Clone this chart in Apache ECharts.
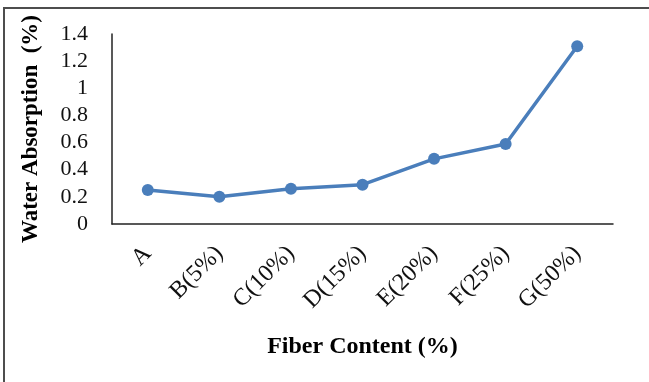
<!DOCTYPE html>
<html>
<head>
<meta charset="utf-8">
<script src="https://cdn.jsdelivr.net/npm/echarts@6/dist/echarts.min.js"></script>
<style>
  html, body { margin: 0; padding: 0; background: #fff; }
  #chart { width: 649px; height: 382px; }
</style>
</head>
<body>
<div id="chart"></div>
<script>
// Fiber content samples and measured water absorption
const categories = ['A', 'B(5%)', 'C(10%)', 'D(15%)', 'E(20%)', 'F(25%)', 'G(50%)'];
const absorption = [0.25, 0.20, 0.26, 0.29, 0.48, 0.59, 1.31];
const yTicks = ['0', '0.2', '0.4', '0.6', '0.8', '1', '1.2', '1.4'];

const serif = '"Liberation Serif", "Times New Roman", serif';
const chart = echarts.init(document.getElementById('chart'));

chart.setOption({
  animation: false,
  backgroundColor: '#fff',
  graphic: [{
    type: 'rect',
    shape: { x: 4, y: 8, width: 700, height: 420 },
    style: { fill: 'none', stroke: '#4d4d4d', lineWidth: 2 },
    silent: true
  }],
  grid: { left: 112, right: 36, top: 34, bottom: 158 },
  xAxis: {
    type: 'category',
    data: categories,
    boundaryGap: true,
    axisLine: { lineStyle: { color: '#222', width: 1.5 } },
    axisTick: { show: false },
    axisLabel: {
      rotate: 45,
      margin: 26,
      fontFamily: serif,
      fontSize: 24,
      color: '#111'
    },
    name: 'Fiber Content (%)',
    nameLocation: 'middle',
    nameGap: 111,
    nameTextStyle: { fontFamily: serif, fontSize: 24, fontWeight: 'bold', color: '#000' }
  },
  yAxis: {
    type: 'value',
    min: 0,
    max: 1.4,
    interval: 0.2,
    splitLine: { show: false },
    axisLine: { show: true, lineStyle: { color: '#222', width: 1.5 } },
    axisTick: { show: false },
    axisLabel: {
      margin: 24,
      fontFamily: serif,
      fontSize: 22,
      color: '#111',
      formatter: (v) => yTicks[Math.round(v / 0.2)]
    },
    name: 'Water Absorption  (%)',
    nameLocation: 'middle',
    nameGap: 69,
    nameTextStyle: { fontFamily: serif, fontSize: 23, fontWeight: 'bold', color: '#000' }
  },
  series: [{
    type: 'line',
    data: absorption,
    symbol: 'circle',
    symbolSize: 12,
    lineStyle: { color: '#4a7ebb', width: 3.5 },
    itemStyle: { color: '#4a7ebb' }
  }]
});
</script>
</body>
</html>
